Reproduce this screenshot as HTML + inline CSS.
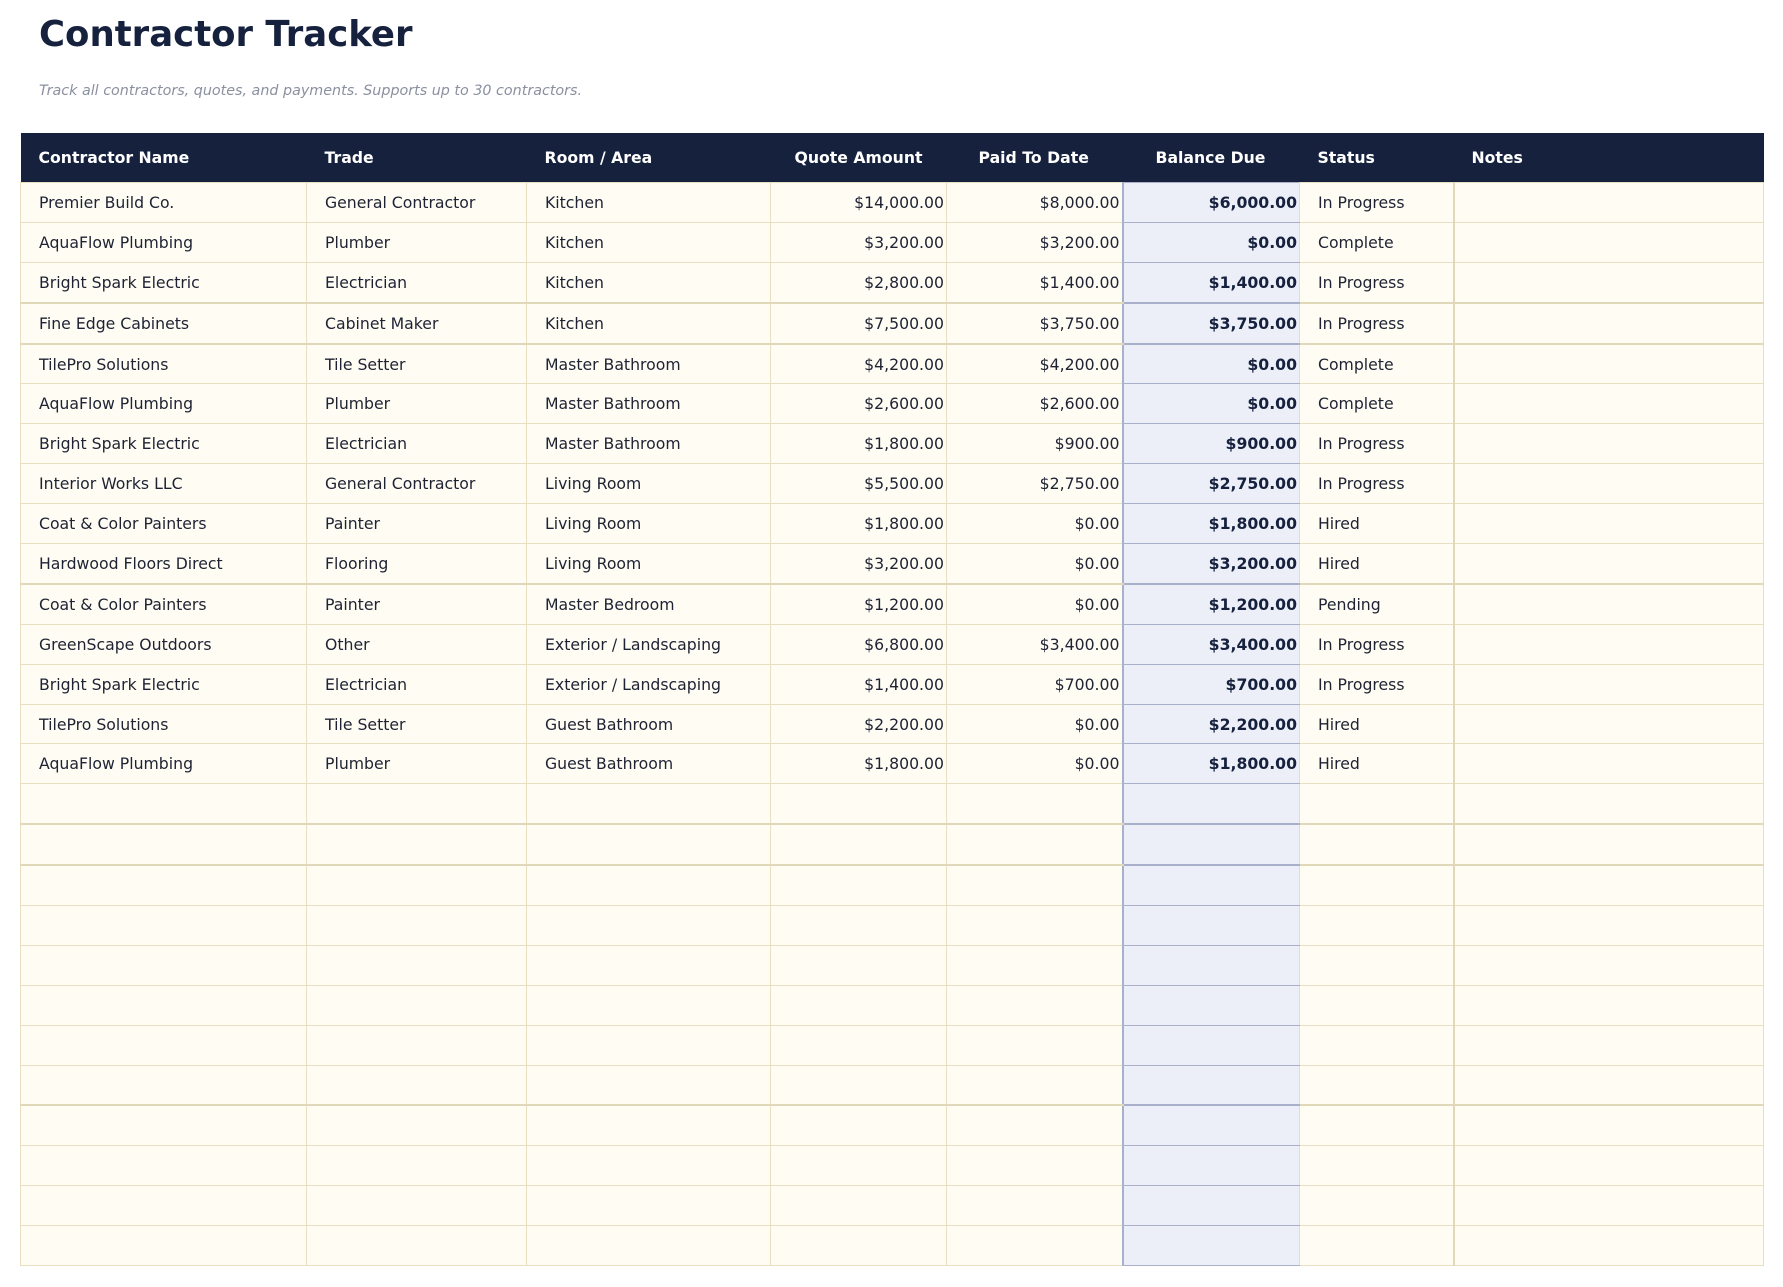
<!DOCTYPE html>
<html><head><meta charset="utf-8"><style>
body{margin:0;background:#fff;width:1783px;height:1287px;font-family:"DejaVu Sans","Liberation Sans",sans-serif;color:#1e2233;}
h1{position:absolute;left:39px;top:14px;margin:0;font-size:35.5px;font-weight:bold;color:#16213e;}
.sub{position:absolute;left:39px;top:83px;font-size:14.3px;font-style:italic;color:#8a90a0;}
table{position:absolute;left:20px;top:133px;border-collapse:collapse;table-layout:fixed;width:1743px;}
th{background:#16213e;color:#fff;font-weight:bold;font-size:15.7px;text-align:left;height:49px;padding:0 0 0 18px;border:none;}
td{background:#fefcf3;border:1px solid #e8dfc0;height:38.9px;font-size:15.7px;padding:0 0 0 18px;white-space:nowrap;}
td.n{text-align:right;padding:0 2px 0 0;}
td.b{background:#eceff8;border:1px solid #a8b0cc;border-right-color:#dcdce0;text-align:right;padding:0 2px 0 0;font-weight:bold;color:#16213e;}
td.b2{border-left:2px solid #a8b0cc;}
tr.t td{border-bottom:2px solid #e0d8b8;}
tr.t td.b{border-bottom-color:#a8b0cc;}
td.nt{border-left:2px solid #e0d8b8;}
</style></head><body>
<h1>Contractor Tracker</h1>
<div class="sub">Track all contractors, quotes, and payments. Supports up to 30 contractors.</div>
<table>
<colgroup><col style="width:286px"><col style="width:220px"><col style="width:244px"><col style="width:176px"><col style="width:176px"><col style="width:177px"><col style="width:154px"><col style="width:310px"></colgroup>
<tr><th>Contractor Name</th><th>Trade</th><th>Room / Area</th><th style="padding-left:24px">Quote Amount</th><th style="padding-left:32px">Paid To Date</th><th style="padding-left:33px">Balance Due</th><th>Status</th><th>Notes</th></tr>
<tr><td>Premier Build Co.</td><td>General Contractor</td><td>Kitchen</td><td class="n">$14,000.00</td><td class="n">$8,000.00</td><td class="b b2">$6,000.00</td><td>In Progress</td><td class="nt"></td></tr>
<tr><td>AquaFlow Plumbing</td><td>Plumber</td><td>Kitchen</td><td class="n">$3,200.00</td><td class="n">$3,200.00</td><td class="b b2">$0.00</td><td>Complete</td><td class="nt"></td></tr>
<tr class="t"><td>Bright Spark Electric</td><td>Electrician</td><td>Kitchen</td><td class="n">$2,800.00</td><td class="n">$1,400.00</td><td class="b b2">$1,400.00</td><td>In Progress</td><td class="nt"></td></tr>
<tr class="t"><td>Fine Edge Cabinets</td><td>Cabinet Maker</td><td>Kitchen</td><td class="n">$7,500.00</td><td class="n">$3,750.00</td><td class="b b2">$3,750.00</td><td>In Progress</td><td class="nt"></td></tr>
<tr><td>TilePro Solutions</td><td>Tile Setter</td><td>Master Bathroom</td><td class="n">$4,200.00</td><td class="n">$4,200.00</td><td class="b b2">$0.00</td><td>Complete</td><td class="nt"></td></tr>
<tr><td>AquaFlow Plumbing</td><td>Plumber</td><td>Master Bathroom</td><td class="n">$2,600.00</td><td class="n">$2,600.00</td><td class="b b2">$0.00</td><td>Complete</td><td class="nt"></td></tr>
<tr><td>Bright Spark Electric</td><td>Electrician</td><td>Master Bathroom</td><td class="n">$1,800.00</td><td class="n">$900.00</td><td class="b b2">$900.00</td><td>In Progress</td><td class="nt"></td></tr>
<tr><td>Interior Works LLC</td><td>General Contractor</td><td>Living Room</td><td class="n">$5,500.00</td><td class="n">$2,750.00</td><td class="b b2">$2,750.00</td><td>In Progress</td><td class="nt"></td></tr>
<tr><td>Coat &amp; Color Painters</td><td>Painter</td><td>Living Room</td><td class="n">$1,800.00</td><td class="n">$0.00</td><td class="b b2">$1,800.00</td><td>Hired</td><td class="nt"></td></tr>
<tr class="t"><td>Hardwood Floors Direct</td><td>Flooring</td><td>Living Room</td><td class="n">$3,200.00</td><td class="n">$0.00</td><td class="b b2">$3,200.00</td><td>Hired</td><td class="nt"></td></tr>
<tr><td>Coat &amp; Color Painters</td><td>Painter</td><td>Master Bedroom</td><td class="n">$1,200.00</td><td class="n">$0.00</td><td class="b b2">$1,200.00</td><td>Pending</td><td class="nt"></td></tr>
<tr><td>GreenScape Outdoors</td><td>Other</td><td>Exterior / Landscaping</td><td class="n">$6,800.00</td><td class="n">$3,400.00</td><td class="b b2">$3,400.00</td><td>In Progress</td><td class="nt"></td></tr>
<tr><td>Bright Spark Electric</td><td>Electrician</td><td>Exterior / Landscaping</td><td class="n">$1,400.00</td><td class="n">$700.00</td><td class="b b2">$700.00</td><td>In Progress</td><td class="nt"></td></tr>
<tr><td>TilePro Solutions</td><td>Tile Setter</td><td>Guest Bathroom</td><td class="n">$2,200.00</td><td class="n">$0.00</td><td class="b b2">$2,200.00</td><td>Hired</td><td class="nt"></td></tr>
<tr><td>AquaFlow Plumbing</td><td>Plumber</td><td>Guest Bathroom</td><td class="n">$1,800.00</td><td class="n">$0.00</td><td class="b b2">$1,800.00</td><td>Hired</td><td class="nt"></td></tr>
<tr class="t"><td></td><td></td><td></td><td></td><td></td><td class="b b2"></td><td></td><td class="nt"></td></tr>
<tr class="t"><td></td><td></td><td></td><td></td><td></td><td class="b b2"></td><td></td><td class="nt"></td></tr>
<tr><td></td><td></td><td></td><td></td><td></td><td class="b b2"></td><td></td><td class="nt"></td></tr>
<tr><td></td><td></td><td></td><td></td><td></td><td class="b b2"></td><td></td><td class="nt"></td></tr>
<tr><td></td><td></td><td></td><td></td><td></td><td class="b b2"></td><td></td><td class="nt"></td></tr>
<tr><td></td><td></td><td></td><td></td><td></td><td class="b b2"></td><td></td><td class="nt"></td></tr>
<tr><td></td><td></td><td></td><td></td><td></td><td class="b b2"></td><td></td><td class="nt"></td></tr>
<tr class="t"><td></td><td></td><td></td><td></td><td></td><td class="b b2"></td><td></td><td class="nt"></td></tr>
<tr><td></td><td></td><td></td><td></td><td></td><td class="b b2"></td><td></td><td class="nt"></td></tr>
<tr><td></td><td></td><td></td><td></td><td></td><td class="b b2"></td><td></td><td class="nt"></td></tr>
<tr><td></td><td></td><td></td><td></td><td></td><td class="b b2"></td><td></td><td class="nt"></td></tr>
<tr><td></td><td></td><td></td><td></td><td></td><td class="b b2"></td><td></td><td class="nt"></td></tr>
</table>
</body></html>
